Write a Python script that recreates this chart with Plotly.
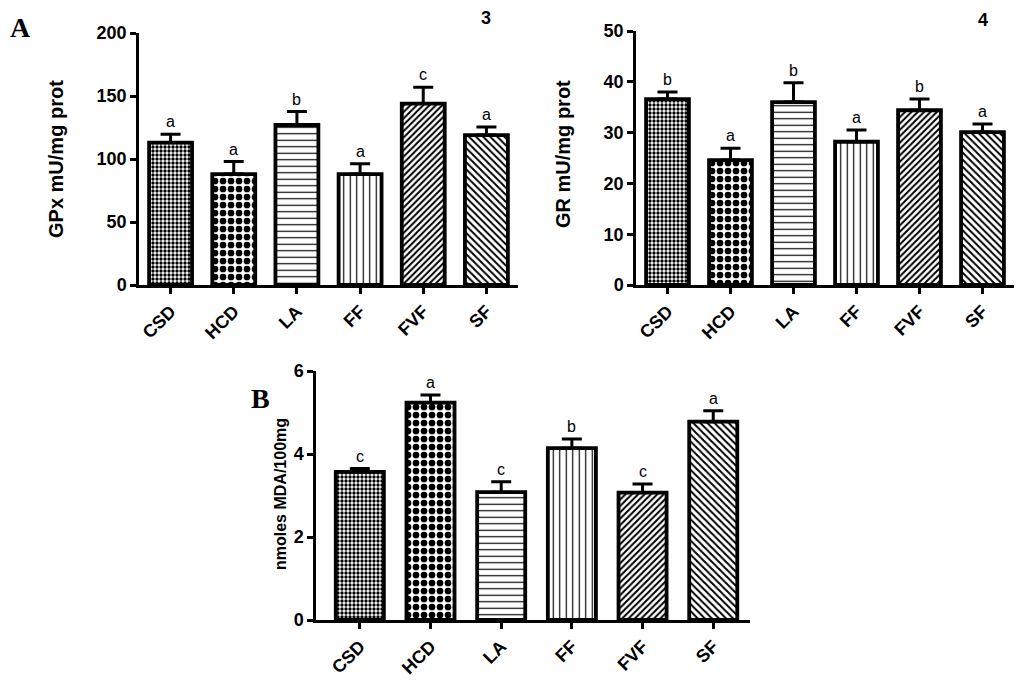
import plotly.graph_objects as go

# groups and patterns shared by the three panels
groups = ['CSD', 'HCD', 'LA', 'FF', 'FVF', 'SF']

# panel A-3: GPx
gpx_mean = [113, 88, 127, 88, 144, 119]
gpx_sem = [6.6, 10, 10.6, 8.2, 13, 6.4]
gpx_letters = ['a', 'a', 'b', 'a', 'c', 'a']

# panel A-4: GR
gr_mean = [36.6, 24.6, 36.0, 28.2, 34.4, 30.1]
gr_sem = [1.4, 2.3, 3.8, 2.3, 2.2, 1.6]
gr_letters = ['b', 'a', 'b', 'a', 'b', 'a']

# panel B: MDA
mda_mean = [3.57, 5.24, 3.08, 4.14, 3.07, 4.78]
mda_sem = [0.08, 0.18, 0.25, 0.22, 0.21, 0.26]
mda_letters = ['c', 'a', 'c', 'b', 'c', 'a']

shapes = ['.', '.', '-', '|', '/', '\\']
sizes = [4, 8, 6.5, 6.5, 4.5, 5]
solid = [0.55, 0.55, 0.18, 0.18, 0.45, 0.4]

FONT = 'Arial, Liberation Sans, sans-serif'
W, H = 1024, 685
OFF = 8  # page margin around the figure


def fx(px):
    return (px - OFF) / W


def fy(py):
    return 1 - (py - OFF) / H


fig = go.Figure()

panels = [
    ('x', 'y', gpx_mean, gpx_sem, gpx_letters),
    ('x2', 'y2', gr_mean, gr_sem, gr_letters),
    ('x3', 'y3', mda_mean, mda_sem, mda_letters),
]

for xa, ya, mean, sem, letters in panels:
    fig.add_trace(go.Bar(
        x=list(range(len(groups))), y=mean, xaxis=xa, yaxis=ya,
        marker=dict(color='white',
                    line=dict(color='black', width=3.8),
                    pattern=dict(shape=shapes, size=sizes, solidity=solid,
                                 fgcolor='black', bgcolor='white', fgopacity=1)),
        error_y=dict(type='data', array=sem, arrayminus=[0] * len(sem),
                     symmetric=False, color='black', thickness=3, width=10),
        showlegend=False,
    ))
    for i, (m, s, t) in enumerate(zip(mean, sem, letters)):
        fig.add_annotation(x=i, y=m + s, xref=xa, yref=ya, text=t,
                           showarrow=False, yanchor='bottom', yshift=2,
                           font=dict(family=FONT, size=16, color='black'))

axis_common = dict(showline=True, linewidth=2.5, linecolor='black',
                   showgrid=False, zeroline=False, ticks='outside',
                   ticklen=6, tickwidth=2.5, tickcolor='black', automargin=False,
                   tickfont=dict(family=FONT, size=18, color='black', weight='bold'))
xcommon = dict(axis_common, tickmode='array', tickvals=list(range(len(groups))),
               ticktext=groups, tickangle=-45)

fig.update_layout(
    width=W, height=H,
    margin=dict(l=0, r=0, t=0, b=0),
    paper_bgcolor='white', plot_bgcolor='white',
    bargap=0.32,
    xaxis=dict(xcommon, domain=[fx(139), fx(518)], range=[-0.5, 5.5], anchor='y'),
    yaxis=dict(axis_common, domain=[fy(285), fy(33)], range=[0, 200], dtick=50, anchor='x'),
    xaxis2=dict(xcommon, domain=[fx(636), fx(1014)], range=[-0.5, 5.5], anchor='y2'),
    yaxis2=dict(axis_common, domain=[fy(285), fy(31)], range=[0, 50], dtick=10, anchor='x2'),
    xaxis3=dict(xcommon, domain=[fx(316), fx(750)], range=[-0.62, 5.52], anchor='y3'),
    yaxis3=dict(axis_common, domain=[fy(620), fy(371)], range=[0, 6], dtick=2, anchor='x3'),
)

# y-axis titles placed as rotated text
ytitles = [('GPx mU/mg prot', 56, 159, 20), ('GR mU/mg prot', 563, 154, 20),
           ('nmoles MDA/100mg', 281, 494, 16)]
for txt, px, py, fs in ytitles:
    fig.add_annotation(x=fx(px), y=fy(py), xref='paper', yref='paper',
                       xanchor='center', yanchor='middle',
                       text='<b>' + txt + '</b>', textangle=-90, showarrow=False,
                       font=dict(family=FONT, size=fs, color='black'))

# panel labels
labels = [('A', 20, 27, 'Liberation Serif, serif', 28),
          ('B', 260, 398, 'Liberation Serif, serif', 28),
          ('3', 486, 18, FONT, 18),
          ('4', 983, 20, FONT, 18)]
for txt, px, py, fam, fs in labels:
    fig.add_annotation(x=fx(px), y=fy(py), xref='paper', yref='paper',
                       xanchor='center', yanchor='middle', text='<b>' + txt + '</b>',
                       showarrow=False, font=dict(family=fam, size=fs, color='black'))

fig.write_html("out.html")
